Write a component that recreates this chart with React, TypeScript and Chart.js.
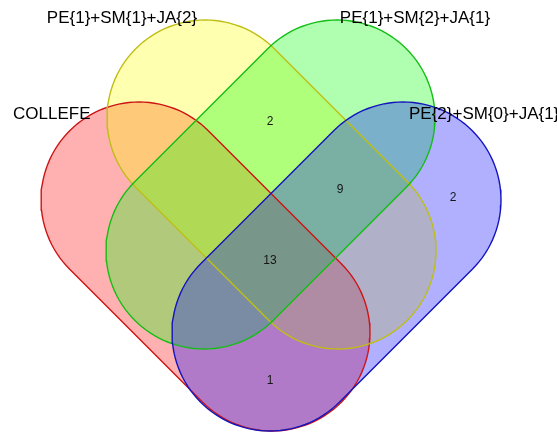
import React, { useEffect, useRef } from "react";
import { Chart, registerables } from "chart.js";

Chart.register(...registerables);

// ---- Data ----
const setNames = ["COLLEFE", "PE{1}+SM{1}+JA{2}", "PE{1}+SM{2}+JA{1}", "PE{2}+SM{0}+JA{1}"];
const regionCounts = [2, 9, 2, 13, 1];

// ---- Layout (geometry of the 4-set diagram, in canvas-like units) ----
const shapeRadius = 98;
const shapeCapA = [
  [139, 200], // COLLEFE
  [205, 118], // yellow
  [337, 118], // green
  [403, 200], // blue
];
const shapeCapB = [
  [272, 333],
  [338, 251],
  [204, 251],
  [270, 333],
];
const fillColors = [
  "rgba(255,0,0,0.31)",
  "rgba(255,255,0,0.31)",
  "rgba(0,255,0,0.31)",
  "rgba(0,0,255,0.31)",
];
const lineColors = ["rgb(205,20,20)", "rgb(190,190,20)", "rgb(20,190,20)", "rgb(20,20,190)"];
const nameAnchors: [number, number, CanvasTextAlign][] = [
  [13, 114, "left"],
  [122, 18, "center"],
  [415, 18, "center"],
  [409, 114, "left"],
];
const countAnchors = [
  [270, 122],
  [340, 190],
  [453, 198],
  [270, 261],
  [270, 381],
];

function stadium(a: number[], b: number[], r: number) {
  const th = Math.atan2(b[1] - a[1], b[0] - a[0]);
  const pts: { x: number; y: number }[] = [];
  const n = 60;
  for (let i = 0; i <= n; i++) {
    const t = th - Math.PI / 2 + (Math.PI * i) / n;
    pts.push({ x: b[0] + r * Math.cos(t), y: b[1] + r * Math.sin(t) });
  }
  for (let i = 0; i <= n; i++) {
    const t = th + Math.PI / 2 + (Math.PI * i) / n;
    pts.push({ x: a[0] + r * Math.cos(t), y: a[1] + r * Math.sin(t) });
  }
  pts.push({ ...pts[0] });
  return pts;
}

const labelPlugin = {
  id: "vennLabels",
  afterDraw(chart: any) {
    const ctx = chart.ctx as CanvasRenderingContext2D;
    const xs = chart.scales.x;
    const ys = chart.scales.y;
    ctx.save();
    ctx.textBaseline = "middle";
    ctx.fillStyle = "#000";
    ctx.font = '17px "Liberation Sans", Arial, sans-serif';
    setNames.forEach((name, i) => {
      const [x, y, align] = nameAnchors[i];
      ctx.textAlign = align;
      ctx.fillText(name, xs.getPixelForValue(x), ys.getPixelForValue(y));
    });
    ctx.font = '12px "Liberation Sans", Arial, sans-serif';
    ctx.fillStyle = "#151515";
    ctx.textAlign = "center";
    regionCounts.forEach((c, i) => {
      const [x, y] = countAnchors[i];
      ctx.fillText(String(c), xs.getPixelForValue(x), ys.getPixelForValue(y));
    });
    ctx.restore();
  },
};

export default function App() {
  const ref = useRef<HTMLCanvasElement | null>(null);
  useEffect(() => {
    document.body.style.margin = "0";
    const shapes = shapeCapA.map((a, i) => stadium(a, shapeCapB[i], shapeRadius));
    // later sets are painted on top of earlier ones (higher order = drawn first)
    const fills = shapes.map((pts, i) => ({
      label: setNames[i] + " fill",
      data: pts,
      showLine: true,
      fill: "shape",
      backgroundColor: fillColors[i],
      borderWidth: 0,
      borderColor: "rgba(0,0,0,0)",
      pointRadius: 0,
      tension: 0,
      order: 10 - i,
    }));
    const outlines = shapes.map((pts, i) => ({
      label: setNames[i],
      data: pts,
      showLine: true,
      fill: false,
      borderColor: lineColors[i],
      borderWidth: 1.4,
      pointRadius: 0,
      tension: 0,
      order: 4 - i,
    }));
    const chart = new Chart(ref.current!, {
      type: "scatter",
      data: { datasets: [...fills, ...outlines] as any },
      options: {
        animation: false,
        responsive: false,
        layout: { padding: 0 },
        plugins: { legend: { display: false }, tooltip: { enabled: false } },
        scales: {
          x: { type: "linear", min: 0, max: 557, display: false },
          y: { type: "linear", min: 0, max: 434, reverse: true, display: false },
        },
      },
      plugins: [labelPlugin],
    });
    return () => chart.destroy();
  }, []);
  return <canvas ref={ref} width={557} height={434} style={{ display: "block" }} />;
}
